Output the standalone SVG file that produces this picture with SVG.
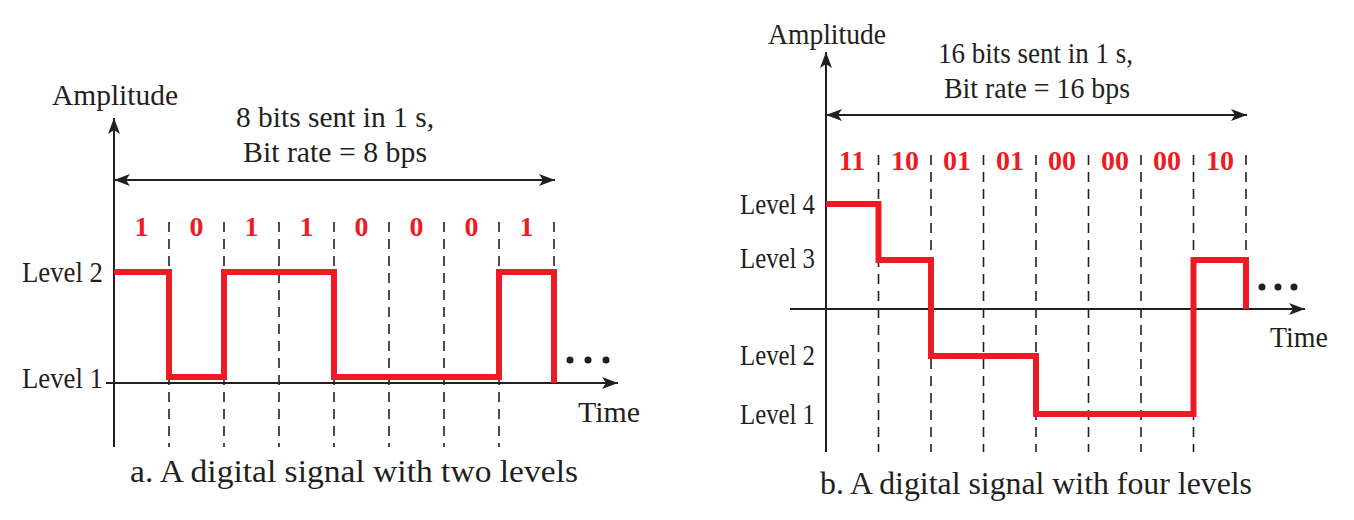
<svg xmlns="http://www.w3.org/2000/svg" width="1354" height="520" viewBox="0 0 1354 520">
<defs>
<marker id="ah" viewBox="0 0 16 12" refX="16" refY="6" markerWidth="16" markerHeight="12" markerUnits="userSpaceOnUse" orient="auto-start-reverse">
<path d="M0,0 L16,6 L0,12 L4,6 z" fill="#231F20"/>
</marker>
<style>
.t{font-family:"Liberation Serif","Times New Roman",serif;fill:#231F20;font-size:30px}
.cap{font-size:32px}
.bit{font-family:"Liberation Serif","Times New Roman",serif;font-weight:bold;fill:#ED1C24;font-size:28px;text-anchor:middle}
.ax{stroke:#231F20;stroke-width:2;fill:none}
.dash{stroke:#231F20;stroke-width:1.6;stroke-dasharray:10,7;fill:none}
.sig{stroke:#ED1C24;stroke-width:6;fill:none;stroke-linejoin:miter;stroke-linecap:butt}
.dot{fill:#231F20}
</style>
</defs>
<rect width="1354" height="520" fill="#ffffff"/>

<g id="panel-a">
<g id="a-grid">
<path class="dash" d="M169,222V447M224,222V447M279,222V447M334,222V447M389,222V447M444,222V447M499,222V447M554,222V272"/>
</g>
<g id="a-axes">
<line class="ax" x1="114" y1="447" x2="114" y2="118" marker-end="url(#ah)"/>
<line class="ax" x1="106" y1="383" x2="618" y2="383" marker-end="url(#ah)"/>
<line class="ax" x1="114" y1="180" x2="555" y2="180" marker-start="url(#ah)" marker-end="url(#ah)"/>
</g>
<g id="a-signal">
<path class="sig" d="M114,272H169V377H224V272H334V377H499V272H554V383"/>
</g>
<g id="a-dots">
<circle class="dot" cx="570" cy="360" r="3.5"/>
<circle class="dot" cx="588" cy="360" r="3.5"/>
<circle class="dot" cx="606" cy="360" r="3.5"/>
</g>
<g id="a-bits">
<text class="bit" x="141.5" y="236">1</text>
<text class="bit" x="196.5" y="236">0</text>
<text class="bit" x="251.5" y="236">1</text>
<text class="bit" x="306.5" y="236">1</text>
<text class="bit" x="361.5" y="236">0</text>
<text class="bit" x="416.5" y="236">0</text>
<text class="bit" x="471.5" y="236">0</text>
<text class="bit" x="526.5" y="236">1</text>
</g>
<g id="a-labels">
<text class="t" x="52" y="105" textLength="126" lengthAdjust="spacingAndGlyphs">Amplitude</text>
<text class="t" x="236" y="127" textLength="198" lengthAdjust="spacingAndGlyphs">8 bits sent in 1 s,</text>
<text class="t" x="243" y="162" textLength="184" lengthAdjust="spacingAndGlyphs">Bit rate = 8 bps</text>
<text class="t" x="22" y="282" textLength="81" lengthAdjust="spacingAndGlyphs">Level 2</text>
<text class="t" x="22" y="388" textLength="81" lengthAdjust="spacingAndGlyphs">Level 1</text>
<text class="t" x="578" y="422" textLength="62" lengthAdjust="spacingAndGlyphs">Time</text>
<text class="t cap" x="130" y="482" textLength="448" lengthAdjust="spacingAndGlyphs">a. A digital signal with two levels</text>
</g>
</g>

<g id="panel-b">
<g id="b-grid">
<path class="dash" d="M878.5,155V452M931,155V452M983.5,155V452M1036,155V452M1088.5,155V452M1141,155V452M1193.5,155V452M1246,155V260"/>
</g>
<g id="b-axes">
<line class="ax" x1="826" y1="452" x2="826" y2="52" marker-end="url(#ah)"/>
<line class="ax" x1="790" y1="309" x2="1305" y2="309" marker-end="url(#ah)"/>
<line class="ax" x1="826" y1="115" x2="1247" y2="115" marker-start="url(#ah)" marker-end="url(#ah)"/>
</g>
<g id="b-signal">
<path class="sig" d="M826,204H878.5V260H931V356H1036V414H1193.5V260H1246V309"/>
</g>
<g id="b-dots">
<circle class="dot" cx="1262" cy="287" r="3.5"/>
<circle class="dot" cx="1278" cy="287" r="3.5"/>
<circle class="dot" cx="1294" cy="287" r="3.5"/>
</g>
<g id="b-bits">
<text class="bit" x="852" y="170">11</text>
<text class="bit" x="905" y="170">10</text>
<text class="bit" x="957" y="170">01</text>
<text class="bit" x="1010" y="170">01</text>
<text class="bit" x="1062" y="170">00</text>
<text class="bit" x="1115" y="170">00</text>
<text class="bit" x="1167" y="170">00</text>
<text class="bit" x="1220" y="170">10</text>
</g>
<g id="b-labels">
<text class="t" x="768" y="44" textLength="118" lengthAdjust="spacingAndGlyphs">Amplitude</text>
<text class="t" x="938" y="63" textLength="195" lengthAdjust="spacingAndGlyphs">16 bits sent in 1 s,</text>
<text class="t" x="944" y="98" textLength="186" lengthAdjust="spacingAndGlyphs">Bit rate = 16 bps</text>
<text class="t" x="740" y="214" textLength="75" lengthAdjust="spacingAndGlyphs">Level 4</text>
<text class="t" x="740" y="268" textLength="75" lengthAdjust="spacingAndGlyphs">Level 3</text>
<text class="t" x="740" y="365" textLength="75" lengthAdjust="spacingAndGlyphs">Level 2</text>
<text class="t" x="740" y="424" textLength="75" lengthAdjust="spacingAndGlyphs">Level 1</text>
<text class="t" x="1270" y="347" textLength="58" lengthAdjust="spacingAndGlyphs">Time</text>
<text class="t cap" x="820" y="494" textLength="432" lengthAdjust="spacingAndGlyphs">b. A digital signal with four levels</text>
</g>
</g>
</svg>
